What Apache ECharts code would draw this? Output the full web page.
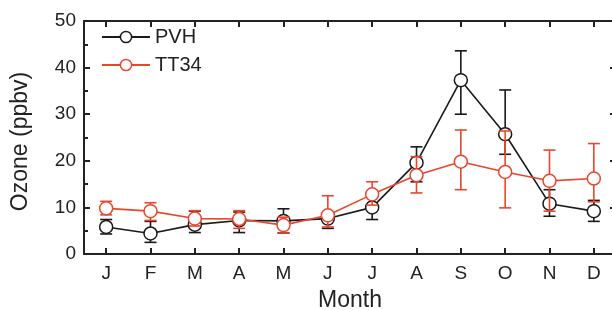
<!DOCTYPE html>
<html><head><meta charset="utf-8">
<script src="https://cdn.jsdelivr.net/npm/echarts@6/dist/echarts.min.js"></script>
<style>html,body{margin:0;padding:0;background:#fff}#c{width:612px;height:310px}</style>
</head><body><div id="c"></div>
<script>
const months = ['J','F','M','A','M','J','J','A','S','O','N','D'];
const pvh     = [5.8, 4.4, 6.3, 7.2, 7.1, 7.6, 10.0, 19.6, 37.3, 25.7, 10.8, 9.2];
const pvhLow  = [4.3, 2.5, 4.6, 4.6, 4.5, 5.5, 7.4, 15.5, 30.0, 21.4, 8.1, 7.0];
const pvhHigh = [7.4, 7.0, 9.2, 9.0, 9.7, 8.6, 12.6, 23.0, 43.6, 35.2, 13.8, 11.5];
const tt34     = [9.8, 9.2, 7.6, 7.5, 6.2, 8.3, 12.8, 16.9, 19.8, 17.6, 15.7, 16.2];
const tt34Low  = [8.4, 7.2, 6.0, 5.5, 4.5, 5.8, 10.5, 13.1, 13.8, 9.9, 9.2, 11.2];
const tt34High = [11.3, 11.0, 9.3, 9.3, 7.9, 12.5, 15.5, 20.9, 26.6, 26.4, 22.3, 23.7];
const yTicks = [0, 10, 20, 30, 40, 50];

const BLACK = '#1a1a1a', RED = '#e8462e';
const FONT = 'Liberation Sans';

function errSeries(name, lo, hi, color, z) {
  return {
    type: 'custom', name: name + ' err', z: z, silent: true,
    data: lo.map((v, i) => [i, v, hi[i]]),
    renderItem: function (params, api) {
      const x = api.value(0);
      const p1 = api.coord([x, api.value(1)]);
      const p2 = api.coord([x, api.value(2)]);
      const w = 6;
      const st = { stroke: color, lineWidth: 1.6 };
      return { type: 'group', children: [
        { type: 'line', shape: { x1: p1[0], y1: p1[1], x2: p2[0], y2: p2[1] }, style: st },
        { type: 'line', shape: { x1: p1[0]-w, y1: p1[1], x2: p1[0]+w, y2: p1[1] }, style: st },
        { type: 'line', shape: { x1: p2[0]-w, y1: p2[1], x2: p2[0]+w, y2: p2[1] }, style: st }
      ]};
    }
  };
}
function lineSeries(name, data, color, z) {
  return {
    type: 'line', name: name, data: data, z: z,
    symbol: 'circle', symbolSize: 13,
    itemStyle: { color: '#fff', borderColor: color, borderWidth: 1.5 },
    lineStyle: { color: color, width: 1.6 },
    emphasis: { disabled: true }
  };
}
const axLine = { onZero: false, lineStyle: { color: '#222', width: 2 } };
const tick = { show: true, inside: true, length: 6, lineStyle: { color: '#222', width: 2 } };

const chart = echarts.init(document.getElementById('c'));
chart.setOption({
  animation: false,
  textStyle: { fontFamily: FONT },
  grid: { left: 84, top: 21, right: -4, bottom: 56, containLabel: false, outerBoundsMode: 'none' },
  legend: {
    orient: 'vertical', left: 96, top: 22, itemWidth: 48, itemHeight: 14, itemGap: 8,
    textStyle: { fontSize: 20, color: '#222', fontFamily: FONT },
    data: [
      { name: 'PVH', itemStyle: { color: '#fff', borderColor: BLACK, borderWidth: 1.5 }, lineStyle: { color: BLACK } },
      { name: 'TT34', itemStyle: { color: '#fff', borderColor: RED, borderWidth: 1.5 }, lineStyle: { color: RED } }
    ]
  },
  xAxis: [
    { type: 'category', data: months, boundaryGap: true,
      name: 'Month', nameLocation: 'middle', nameGap: 35,
      nameTextStyle: { fontSize: 23, color: '#222', fontFamily: FONT },
      axisLine: { show: true, ...axLine },
      axisTick: { ...tick, alignWithLabel: true },
      axisLabel: { fontSize: 19, color: '#222', margin: 10 },
      splitLine: { show: false } },
    { type: 'category', data: months, boundaryGap: true, position: 'top',
      axisLine: { show: true, ...axLine },
      axisTick: { ...tick, alignWithLabel: true },
      axisLabel: { show: false }, splitLine: { show: false } }
  ],
  yAxis: [
    { type: 'value', min: 0, max: 50, interval: 10,
      name: 'Ozone (ppbv)', nameLocation: 'middle', nameGap: 52,
      nameTextStyle: { fontSize: 23, color: '#222', fontFamily: FONT, padding: [0, 8, 0, 0] },
      axisLine: { show: true, ...axLine },
      axisTick: tick,
      minorTick: { show: true, splitNumber: 2, length: 4, lineStyle: { color: '#222', width: 2 } },
      axisLabel: { fontSize: 19, color: '#222', margin: 8,
        formatter: v => (yTicks.indexOf(v) >= 0 ? String(v) : '') },
      splitLine: { show: false } },
    { type: 'value', min: 0, max: 50, interval: 10, position: 'right',
      axisLine: { show: true, ...axLine },
      axisTick: tick,
      minorTick: { show: true, splitNumber: 2, length: 4, lineStyle: { color: '#222', width: 2 } },
      axisLabel: { show: false }, splitLine: { show: false } }
  ],
  series: [
    errSeries('PVH', pvhLow, pvhHigh, BLACK, 1),
    lineSeries('PVH', pvh, BLACK, 2),
    errSeries('TT34', tt34Low, tt34High, RED, 3),
    lineSeries('TT34', tt34, RED, 4)
  ]
});
</script></body></html>
